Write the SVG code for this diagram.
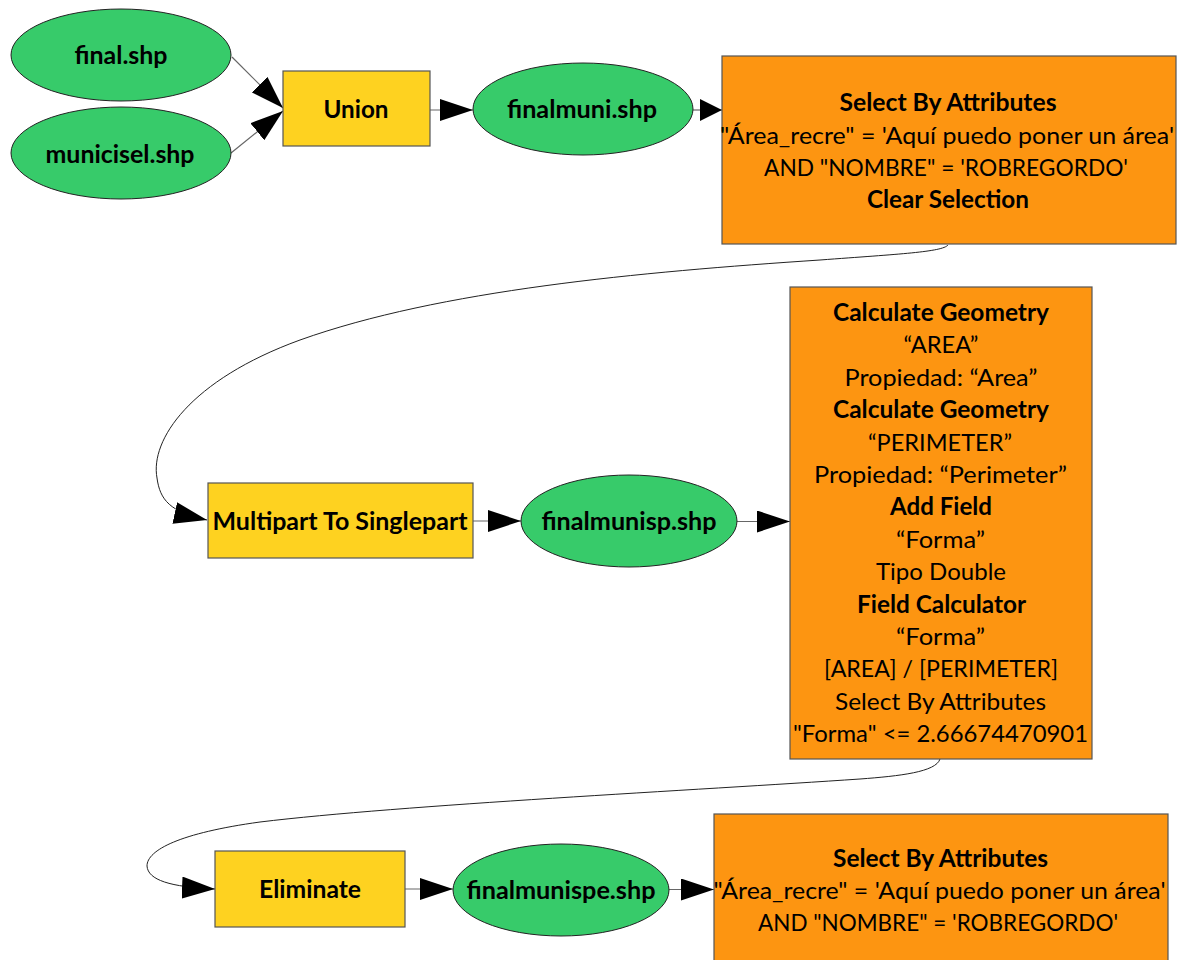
<svg xmlns="http://www.w3.org/2000/svg" width="1185" height="960" viewBox="0 0 1185 960">
<style>
.data{fill:#37cb6a;stroke:#222;stroke-width:1}
.tool{fill:#fed220;stroke:#555;stroke-width:1.2}
.proc{fill:#fd9511;stroke:#555;stroke-width:1.2}
text{font-family:Lato,"Liberation Sans",sans-serif;font-size:24px;fill:#000;text-anchor:middle}
.b{font-weight:bold}
.ln{fill:none;stroke:#666;stroke-width:1.2}
.cv{fill:none;stroke:#222;stroke-width:1}
</style>
<defs>
<marker id="ah" viewBox="0 0 33 22" refX="33" refY="11" markerWidth="33" markerHeight="22" markerUnits="userSpaceOnUse" orient="auto"><path d="M0,0 L33,11 L0,22 Z" fill="#000"/></marker>
<marker id="ahs" viewBox="0 0 22 22" refX="22" refY="11" markerWidth="22" markerHeight="22" markerUnits="userSpaceOnUse" orient="auto"><path d="M0,0 L22,11 L0,22 Z" fill="#000"/></marker>
</defs>
<g id="connectors">
<line class="ln" x1="232" y1="57" x2="283" y2="108" marker-end="url(#ah)"/>
<line class="ln" x1="231" y1="153" x2="283" y2="111" marker-end="url(#ah)"/>
<line class="ln" x1="430" y1="110" x2="473" y2="110" marker-end="url(#ah)"/>
<line class="ln" x1="693" y1="110" x2="722" y2="110" marker-end="url(#ahs)"/>
<path class="cv" d="M948,245 C942,252 900,254 820,260 C640,272 440,290 300,340 C190,380 150,440 157,478 C160,500 170,512 207,520" marker-end="url(#ah)"/>
<line class="ln" x1="473" y1="521" x2="521" y2="521" marker-end="url(#ah)"/>
<line class="ln" x1="737" y1="521.5" x2="790" y2="521.5" marker-end="url(#ah)"/>
<path class="cv" d="M940,759 C936,772 900,776 860,779 C700,790 400,805 260,822 C180,833 147,850 147,866 C148,880 170,887 215,889" marker-end="url(#ah)"/>
<line class="ln" x1="405" y1="889" x2="453" y2="889" marker-end="url(#ah)"/>
<line class="ln" x1="669" y1="889.5" x2="714" y2="889.5" marker-end="url(#ah)"/>
</g>
<g id="final">
<ellipse class="data" cx="121" cy="55" rx="110" ry="46"/>
<text class="b" x="121" y="64" textLength="93" lengthAdjust="spacingAndGlyphs">final.shp</text>
</g>
<g id="municisel">
<ellipse class="data" cx="121" cy="153" rx="110" ry="46"/>
<text class="b" x="120" y="163" textLength="149" lengthAdjust="spacingAndGlyphs">municisel.shp</text>
</g>
<g id="union">
<rect class="tool" x="283" y="71" width="147" height="75"/>
<text class="b" x="356" y="118" textLength="65" lengthAdjust="spacingAndGlyphs">Union</text>
</g>
<g id="finalmuni">
<ellipse class="data" cx="583" cy="109" rx="110" ry="46"/>
<text class="b" x="582" y="118" textLength="150" lengthAdjust="spacingAndGlyphs">finalmuni.shp</text>
</g>
<g id="select1">
<rect class="proc" x="722" y="56" width="454" height="188"/>
<text class="b" x="948" y="111" textLength="217" lengthAdjust="spacingAndGlyphs">Select By Attributes</text>
<text x="947" y="143.5" textLength="454" lengthAdjust="spacingAndGlyphs">"Área_recre" = 'Aquí puedo poner un área'</text>
<text x="946" y="176" textLength="364" lengthAdjust="spacingAndGlyphs">AND "NOMBRE" = 'ROBREGORDO'</text>
<text class="b" x="948" y="208" textLength="162" lengthAdjust="spacingAndGlyphs">Clear Selection</text>
</g>
<g id="multipart">
<rect class="tool" x="208" y="483" width="265" height="75"/>
<text class="b" x="340" y="530" textLength="255" lengthAdjust="spacingAndGlyphs">Multipart To Singlepart</text>
</g>
<g id="finalmunisp">
<ellipse class="data" cx="629" cy="521" rx="108" ry="46"/>
<text class="b" x="629" y="530" textLength="175" lengthAdjust="spacingAndGlyphs">finalmunisp.shp</text>
</g>
<g id="calc">
<rect class="proc" x="790" y="287" width="302" height="472"/>
<text class="b" x="941" y="321" textLength="216" lengthAdjust="spacingAndGlyphs">Calculate Geometry</text>
<text x="941" y="353.4" textLength="75" lengthAdjust="spacingAndGlyphs">“AREA”</text>
<text x="941" y="385.8" textLength="193" lengthAdjust="spacingAndGlyphs">Propiedad: “Area”</text>
<text class="b" x="941" y="418.2" textLength="216" lengthAdjust="spacingAndGlyphs">Calculate Geometry</text>
<text x="940" y="450.6" textLength="144" lengthAdjust="spacingAndGlyphs">“PERIMETER”</text>
<text x="940.5" y="483" textLength="253" lengthAdjust="spacingAndGlyphs">Propiedad: “Perimeter”</text>
<text class="b" x="941" y="515.4" textLength="102" lengthAdjust="spacingAndGlyphs">Add Field</text>
<text x="940.5" y="547.8" textLength="89" lengthAdjust="spacingAndGlyphs">“Forma”</text>
<text x="941" y="580.2" textLength="130" lengthAdjust="spacingAndGlyphs">Tipo Double</text>
<text class="b" x="941.5" y="612.6" textLength="169" lengthAdjust="spacingAndGlyphs">Field Calculator</text>
<text x="940.5" y="645" textLength="89" lengthAdjust="spacingAndGlyphs">“Forma”</text>
<text x="941" y="677.4" textLength="234" lengthAdjust="spacingAndGlyphs">[AREA] / [PERIMETER]</text>
<text x="940.5" y="709.8" textLength="211" lengthAdjust="spacingAndGlyphs">Select By Attributes</text>
<text x="940.5" y="742.2" textLength="295" lengthAdjust="spacingAndGlyphs">"Forma" &lt;= 2.66674470901</text>
</g>
<g id="eliminate">
<rect class="tool" x="215" y="851" width="190" height="76"/>
<text class="b" x="310" y="898" textLength="102" lengthAdjust="spacingAndGlyphs">Eliminate</text>
</g>
<g id="finalmunispe">
<ellipse class="data" cx="561" cy="890" rx="108" ry="46"/>
<text class="b" x="561" y="899" textLength="189" lengthAdjust="spacingAndGlyphs">finalmunispe.shp</text>
</g>
<g id="select2">
<rect class="proc" x="714" y="814" width="454" height="160"/>
<text class="b" x="940.5" y="867" textLength="215" lengthAdjust="spacingAndGlyphs">Select By Attributes</text>
<text x="939.5" y="899" textLength="452" lengthAdjust="spacingAndGlyphs">"Área_recre" = 'Aquí puedo poner un área'</text>
<text x="938" y="931" textLength="360" lengthAdjust="spacingAndGlyphs">AND "NOMBRE" = 'ROBREGORDO'</text>
</g>
</svg>
